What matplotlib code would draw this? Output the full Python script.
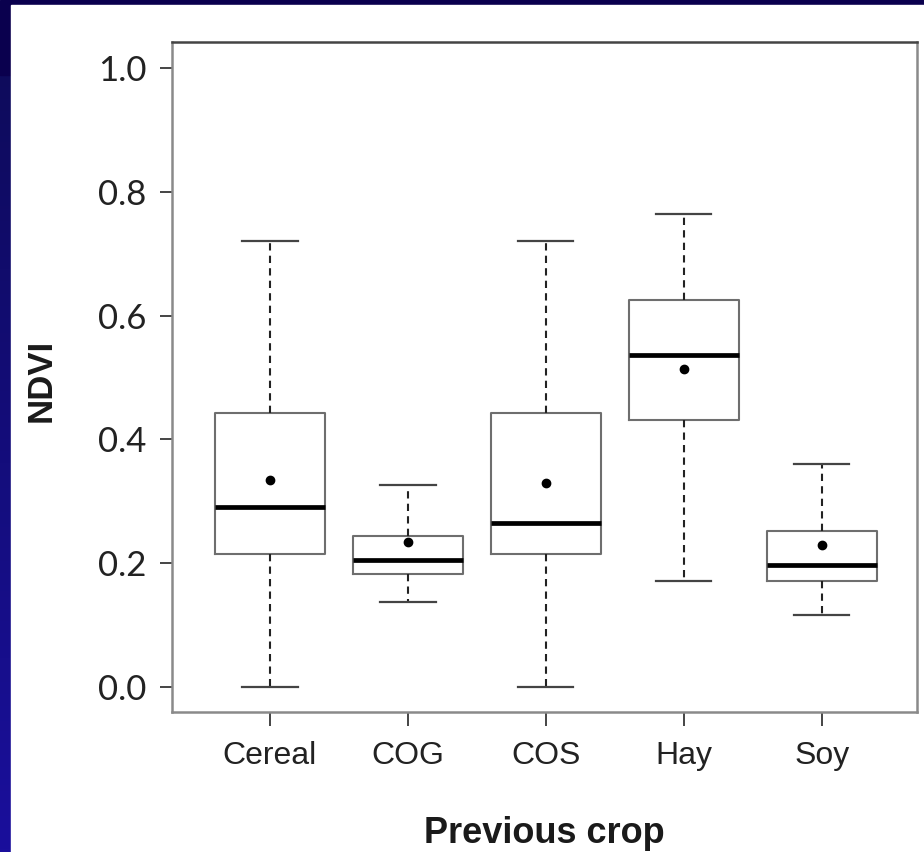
import numpy as np
import matplotlib
matplotlib.use('Agg')
import matplotlib.pyplot as plt
from matplotlib.patches import Rectangle
from matplotlib.colors import LinearSegmentedColormap

# NDVI summary by previous crop
categories = ['Cereal', 'COG', 'COS', 'Hay', 'Soy']
whisker_low = [0.000, 0.137, 0.000, 0.172, 0.116]
q1 = [0.215, 0.183, 0.215, 0.431, 0.172]
median = [0.291, 0.205, 0.265, 0.537, 0.197]
q3 = [0.443, 0.244, 0.443, 0.625, 0.252]
whisker_high = [0.720, 0.327, 0.720, 0.764, 0.361]
mean = [0.334, 0.234, 0.329, 0.514, 0.230]
yticks = [0.0, 0.2, 0.4, 0.6, 0.8, 1.0]

W, H = 924, 852
fig = plt.figure(figsize=(W/100, H/100), dpi=100)

# slide background: navy band on top, blue gradient down the left edge
bg = fig.add_axes([0, 0, 1, 1], zorder=-10)
bg.set_axis_off()
grad_cmap = LinearSegmentedColormap.from_list('slide', ['#0e0b5c', '#1a0f9c'])
grad = np.linspace(0, 1, 256).reshape(-1, 1)
bg.imshow(grad, cmap=grad_cmap, aspect='auto', extent=[0, 1, 0, 1 - 75/H], origin='upper')
bg.add_patch(Rectangle((0, 1 - 75/H), 1, 75/H, color='#0a004e'))
bg.add_patch(Rectangle((11/W, 0), 1 - 11/W, 1 - 5/H, color='white'))
bg.set_xlim(0, 1)
bg.set_ylim(0, 1)

ax = fig.add_axes([172/W, 1 - 712/H, 745/W, 670/H])
ax.set_facecolor('white')

stats = []
for i, name in enumerate(categories):
    stats.append(dict(label=name, whislo=whisker_low[i], q1=q1[i], med=median[i],
                      q3=q3[i], whishi=whisker_high[i], mean=mean[i], fliers=[]))

positions = np.arange(1, len(categories) + 1)
ax.bxp(stats, positions=positions, widths=0.8, capwidths=0.4, showfliers=False,
       showmeans=True,
       boxprops=dict(color='#6e6e6e', linewidth=1.5),
       medianprops=dict(color='black', linewidth=3.4, solid_capstyle='butt'),
       whiskerprops=dict(color='#222222', linewidth=1.5, linestyle=(0, (3.5, 2.5))),
       capprops=dict(color='#444444', linewidth=1.6),
       meanprops=dict(marker='o', markerfacecolor='black', markeredgecolor='black',
                      markersize=6))

ax.set_xlim(0.29, 5.69)
ax.set_ylim(-0.0404, 1.042)
ax.set_yticks(yticks)
ax.set_yticklabels([f'{v:.1f}' for v in yticks], family='Lato', fontsize=25, color='#222222')
ax.set_xticks(positions)
ax.set_xticklabels(categories, family='Liberation Sans', fontsize=23, color='#222222')
ax.tick_params(axis='y', length=8.6, width=1.4, color='#444444', pad=10)
ax.tick_params(axis='x', length=10, width=1.4, color='#444444', pad=11)

for side in ['left', 'bottom', 'right']:
    ax.spines[side].set_color('#8a8a8a')
    ax.spines[side].set_linewidth(1.8)
ax.spines['top'].set_color('#444444')
ax.spines['top'].set_linewidth(1.8)

ax.set_ylabel('NDVI', family='Liberation Sans', fontweight='bold', fontsize=25, color='#1a1a1a')
ax.yaxis.set_label_coords(-0.153, 0.495)
ax.set_xlabel('Previous crop', family='Liberation Sans', fontweight='bold', fontsize=26, color='#1a1a1a')
ax.xaxis.set_label_coords(0.5, -0.155)

fig.savefig('out.png', dpi=100)
